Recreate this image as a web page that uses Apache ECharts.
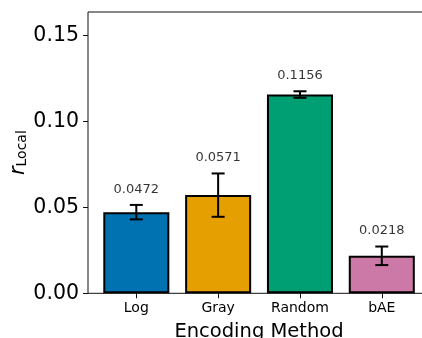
<!DOCTYPE html>
<html><head><meta charset="utf-8">
<script src="https://cdn.jsdelivr.net/npm/echarts@6/dist/echarts.min.js"></script>
<style>html,body{margin:0;padding:0;background:#fff}#c{width:422px;height:338px}</style>
</head><body><div id="c"></div>
<script>
const categories = ['Log', 'Gray', 'Random', 'bAE'];
const means = [0.0472, 0.0571, 0.1156, 0.0218];
const errors = [0.0042, 0.0126, 0.0019, 0.0054];
const labels = ['0.0472', '0.0571', '0.1156', '0.0218'];
const colors = ['#0072B2', '#E69F00', '#009E73', '#CC79A7'];
const yTicks = [0, 0.05, 0.10, 0.15];

const FONT = 'DejaVu Sans';
const YMAX = 0.1636;
const chart = echarts.init(document.getElementById('c'), null, {renderer: 'canvas'});
chart.setOption({
  animation: false,
  grid: [
    {left: 88, right: -8, top: 12, bottom: 44.7, show: true, borderColor: '#111', borderWidth: 1, backgroundColor: 'transparent', containLabel: false, outerBoundsMode: 'none'},
    {left: 95.4, right: -0.7, top: 12, bottom: 44.7, containLabel: false, outerBoundsMode: 'none'}
  ],
  xAxis: [
    {gridIndex: 0, type: 'value', min: 0, max: 1, show: true,
     axisLine: {show: false}, axisTick: {show: false}, axisLabel: {show: false}, splitLine: {show: false},
     name: 'Encoding Method', nameLocation: 'middle', nameGap: 29, nameMoveOverlap: false,
     nameTextStyle: {fontFamily: FONT, fontSize: 19.5, color: '#000'}},
    {gridIndex: 1, type: 'category', data: categories,
     axisLine: {show: false},
     axisTick: {show: true, alignWithLabel: true, length: 5, lineStyle: {color: '#111', width: 1}},
     axisLabel: {fontFamily: FONT, fontSize: 14, color: '#000', margin: 8}}
  ],
  yAxis: [
    {gridIndex: 0, type: 'value', min: 0, max: YMAX, interval: 0.05,
     axisLine: {show: false},
     axisTick: {show: true, length: 5, lineStyle: {color: '#111', width: 1},
       customValues: yTicks},
     splitLine: {show: false},
     axisLabel: {fontFamily: FONT, fontSize: 20.5, color: '#000', margin: 9,
       customValues: yTicks,
       formatter: v => v.toFixed(2)},
     name: '{r|r}{s|Local}', nameLocation: 'middle', nameGap: 59, nameRotate: 90, nameMoveOverlap: false,
     nameTextStyle: {rich: {
       r: {fontFamily: FONT, fontStyle: 'italic', fontSize: 21, color: '#000', verticalAlign: 'bottom', lineHeight: 24},
       s: {fontFamily: FONT, fontSize: 14, color: '#000', verticalAlign: 'bottom', lineHeight: 20}
     }}},
    {gridIndex: 1, type: 'value', min: 0, max: YMAX, show: false}
  ],
  series: [
    {type: 'bar', xAxisIndex: 1, yAxisIndex: 1, barWidth: '80.7%',
     data: means.map((v, i) => ({value: v, itemStyle: {color: colors[i]}})),
     itemStyle: {borderColor: '#000', borderWidth: 2}},
    {type: 'custom', xAxisIndex: 1, yAxisIndex: 1, z: 5,
     data: means.map((v, i) => [i, v - errors[i], v + errors[i]]),
     renderItem: function (params, api) {
       const lo = api.coord([api.value(0), api.value(1)]);
       const hi = api.coord([api.value(0), api.value(2)]);
       const w = 6.5;
       const st = {stroke: '#000', lineWidth: 2};
       return {type: 'group', children: [
         {type: 'line', shape: {x1: lo[0], y1: lo[1], x2: hi[0], y2: hi[1]}, style: st},
         {type: 'line', shape: {x1: lo[0] - w, y1: lo[1], x2: lo[0] + w, y2: lo[1]}, style: st},
         {type: 'line', shape: {x1: hi[0] - w, y1: hi[1], x2: hi[0] + w, y2: hi[1]}, style: st}
       ]};
     }},
    {type: 'scatter', xAxisIndex: 1, yAxisIndex: 1, symbolSize: 0,
     data: means.map((v, i) => [i, v + errors[i]]),
     label: {show: true, position: 'top', distance: 9, fontFamily: FONT, fontSize: 13, color: '#000',
       formatter: p => labels[p.dataIndex]}}
  ]
});
</script></body></html>
